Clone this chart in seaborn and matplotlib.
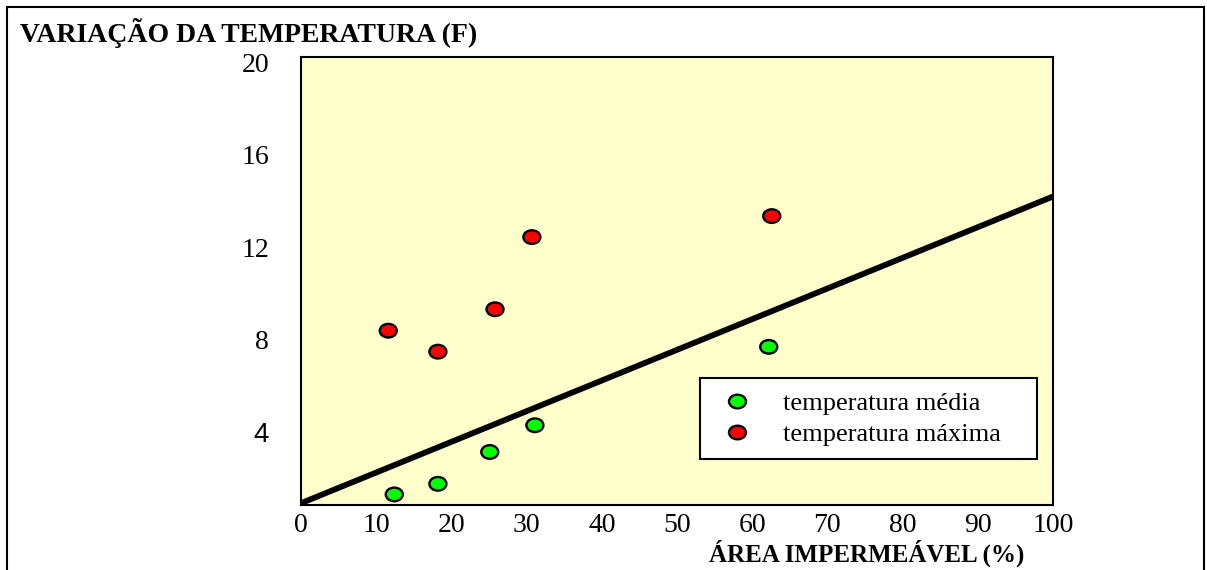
"""
Temperature variation vs. impervious area scatter, with a linear trend line.
"""

import numpy as np
import pandas as pd
import matplotlib.pyplot as plt
import matplotlib.patches as mpatches
from matplotlib.path import Path
import seaborn as sns

# -- Data ---------------------------------------
area_media   = [12.4, 18.2, 25.1, 31.1, 62.2]
temp_media   = [1.28, 1.74, 3.12, 4.28, 7.68]
area_maxima  = [11.6, 18.2, 25.8, 30.7, 62.6]
temp_maxima  = [8.38, 7.47, 9.31, 12.44, 13.35]

trend_x = [0, 100]
trend_y = [0.9, 14.2]

x_ticks = [0, 10, 20, 30, 40, 50, 60, 70, 80, 90, 100]
y_ticks = [4, 8, 12, 16, 20]

LABEL_MEDIA  = "temperatura média"
LABEL_MAXIMA = "temperatura máxima"

df = pd.DataFrame({
    "area":  area_media + area_maxima,
    "temp":  temp_media + temp_maxima,
    "serie": [LABEL_MEDIA] * len(area_media) + [LABEL_MAXIMA] * len(area_maxima),
})
trend_df = pd.DataFrame({"area": trend_x, "temp": trend_y})

# -- Style --------------------------------------
sns.set_theme(style="white")
plt.rcParams["font.family"] = ["Liberation Serif", "DejaVu Serif"]
plt.rcParams["text.color"] = "black"
plt.rcParams["axes.labelcolor"] = "black"

# slightly flattened ellipse marker
circle = Path.unit_circle()
ellipse = Path(circle.vertices * np.array([1.0, 0.8]), circle.codes)

fig = plt.figure(figsize=(12.07, 5.70), dpi=100)
ax = fig.add_axes([0.2494, 0.1140, 0.6230, 0.7860])
ax.set_facecolor("#FFFFCC")

# -- Plot ---------------------------------------
sns.lineplot(data=trend_df, x="area", y="temp", color="black",
             linewidth=4.2, ax=ax, legend=False)
sns.scatterplot(
    data=df, x="area", y="temp", hue="serie",
    palette={LABEL_MEDIA: "#00FF00", LABEL_MAXIMA: "#FF0000"},
    marker=ellipse, s=150, edgecolor="black", linewidth=1.7,
    ax=ax, zorder=3, clip_on=False,
)

ax.set_xlim(0, 100)
ax.set_ylim(0.82, 20.25)
ax.set_xticks(x_ticks)
ax.set_yticks(y_ticks)
ax.tick_params(axis="both", length=0, labelsize=20, colors="black")
ax.tick_params(axis="x", pad=6)
ax.tick_params(axis="y", pad=23)
ax.set_xlabel("")
ax.set_ylabel("")
# the "4" label is drawn in a sans face in the original
for lbl in ax.get_yticklabels():
    if lbl.get_text() == "4":
        lbl.set_family(["Liberation Sans", "DejaVu Sans"])

for sp in ax.spines.values():
    sp.set_color("black")
    sp.set_linewidth(1.5)

# -- Legend -------------------------------------
leg = ax.legend(
    loc="upper left", bbox_to_anchor=(0.531, 0.283, 0.448, 0.0),
    mode="expand", fontsize=19, frameon=True, fancybox=False,
    borderpad=0.5, labelspacing=0.3, handlelength=1.8, handletextpad=0.84,
    borderaxespad=0.0,
)
leg.get_frame().set_edgecolor("black")
leg.get_frame().set_linewidth(1.5)
leg.get_frame().set_facecolor("white")
leg.get_frame().set_alpha(1)

# -- Titles -------------------------------------
fig.text(20 / 1207, 1 - 33 / 570, "VARIAÇÃO DA TEMPERATURA (F)",
         ha="left", va="center", fontsize=20, fontweight="bold")
fig.text(867 / 1207, 1 - 553 / 570, "ÁREA IMPERMEÁVEL (%)",
         ha="center", va="center", fontsize=18, fontweight="bold")

# outer frame around the whole chart
fig.patches.append(mpatches.Rectangle(
    (7 / 1207, -0.02), (1204 - 7) / 1207, 1.02 - 7 / 570,
    transform=fig.transFigure, fill=False, edgecolor="black", linewidth=1.5,
))

fig.savefig("out.png", dpi=100)
plt.close()
